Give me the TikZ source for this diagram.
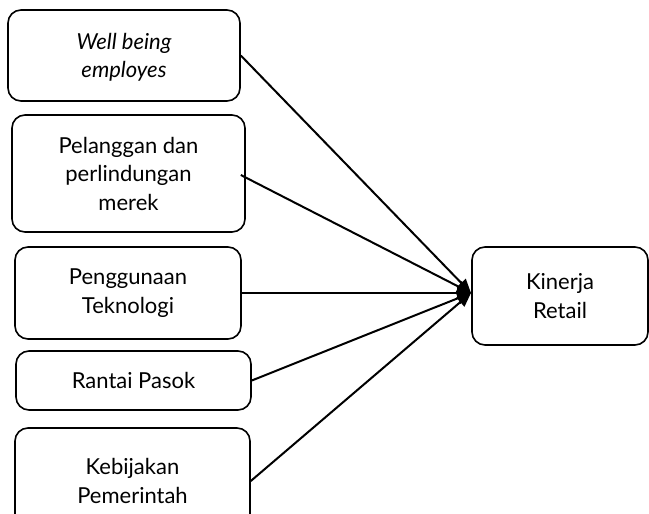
\documentclass[tikz,border=0pt]{standalone}
\usepackage{fontspec}
\setmainfont{Lato}
\usetikzlibrary{arrows.meta,calc}
\begin{document}
\begin{tikzpicture}[x=1pt,y=-1pt,
  box/.style={draw,line width=1.6pt,rounded corners=13pt,align=center,inner sep=0pt,
    font=\fontsize{22}{28.5}\selectfont},
  arr/.style={line width=2pt,-{Triangle[length=14pt,width=12pt]}}]
\useasboundingbox (0,0) rectangle (649,514);
\clip (0,0) rectangle (649,514);
\node[box,minimum width=232pt,minimum height=91pt,text depth=-3pt] (b1) at (124,55.5) {\itshape Well being\\\itshape employes};
\node[box,minimum width=233pt,minimum height=117pt] (b2) at (128.5,173.5) {Pelanggan dan\\perlindungan\\merek};
\node[box,minimum width=226pt,minimum height=92pt] (b3) at (128,293) {Penggunaan\\Teknologi};
\node[box,minimum width=235pt,minimum height=59pt] (b4) at (133.5,380.5) {Rantai Pasok};
\node[box,minimum width=235pt,minimum height=106pt] (b5) at (132.5,481) {Kebijakan\\Pemerintah};
\node[box,minimum width=176pt,minimum height=98pt] (k) at (560,296) {Kinerja\\Retail};
\coordinate (tip) at (471,293);
\draw[arr] (b1.east) -- (tip);
\draw[arr] ([xshift=-5pt,yshift=-1.5pt]b2.east) -- (tip);
\draw[arr] (b3.east) -- (tip);
\draw[arr] (b4.east) -- (tip);
\draw[arr] (b5.east) -- (tip);
\end{tikzpicture}
\end{document}
